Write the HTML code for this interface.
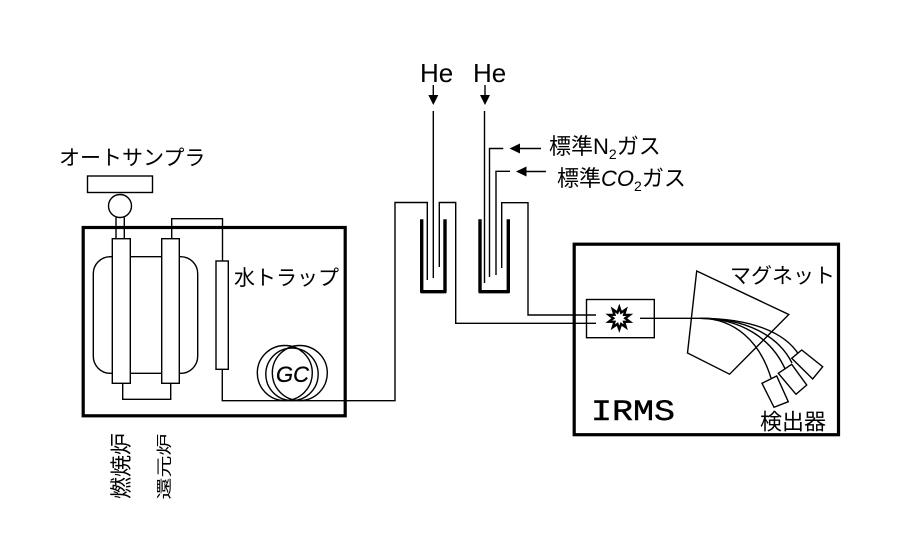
<!DOCTYPE html>
<html>
<head>
<meta charset="utf-8">
<style>
html,body{margin:0;padding:0;background:#fff;}
svg{display:block;}
text{font-family:"Liberation Sans","Noto Sans CJK JP",sans-serif;fill:#000;}
</style>
</head>
<body>
<svg width="919" height="542" viewBox="0 0 919 542" xmlns="http://www.w3.org/2000/svg">
<rect x="0" y="0" width="919" height="542" fill="#fff"/>
<g fill="none" stroke="#000" stroke-width="1.4">
  <!-- autosampler -->
  <rect x="87.5" y="176" width="65" height="16.5" fill="#fff"/>
  <circle cx="120" cy="206" r="11.5" fill="#fff"/>
  <line x1="116" y1="217.5" x2="116" y2="239"/>
  <line x1="124.3" y1="217.5" x2="124.3" y2="239"/>
  <!-- main box -->
  <rect x="83.2" y="227.5" width="262" height="188.3" stroke-width="3.2"/>
  <!-- furnace -->
  <rect x="93.3" y="256.7" width="104.4" height="116.6" rx="17" ry="17"/>
  <!-- col2 to water trap -->
  <path d="M171.7 239 V218.7 H222.5 V261"/>
  <!-- bottom connector -->
  <path d="M122.7 383 V399.3 H170.7 V383"/>
  <!-- columns -->
  <rect x="112.3" y="238.7" width="18" height="144.6" fill="#fff"/>
  <rect x="161.7" y="238.7" width="17.6" height="144.6" fill="#fff"/>
  <!-- water trap -->
  <rect x="216" y="261" width="12.3" height="108.3" fill="#fff"/>
  <!-- GC coils -->
  <circle cx="284.8" cy="373" r="27.5"/>
  <circle cx="299.8" cy="373" r="27.5"/>
  <circle cx="292" cy="374.3" r="26.2"/>
  <!-- gas line from water trap to left trap -->
  <path d="M222.3 369.3 V400.7 H395 V202.5 H427.3 V280"/>
  <!-- He left -->
  <line x1="433.3" y1="111" x2="433.3" y2="278"/>
  <path d="M439.3 267 V202.5 H455.7 V323.3 H596"/>
  <!-- right trap lines -->
  <line x1="484.5" y1="111" x2="484.5" y2="283"/>
  <path d="M503.3 148.5 H489.5 V277"/>
  <path d="M510 171.3 H496 V275"/>
  <path d="M501.7 268 V202.7 H528 V315 H596"/>
  <!-- He arrows shafts -->
  <line x1="433.3" y1="85" x2="433.3" y2="96"/>
  <line x1="485" y1="85" x2="485" y2="96"/>
  <!-- N2 / CO2 arrow shafts -->
  <line x1="518" y1="148.5" x2="541" y2="148.5"/>
  <line x1="525" y1="171.5" x2="546" y2="171.5"/>
  <!-- IRMS box -->
  <rect x="574.2" y="244.2" width="264.3" height="190.5" stroke-width="3.2"/>
  <!-- ion source -->
  <rect x="586.5" y="299.5" width="67.8" height="38.2"/>
  <!-- magnet -->
  <polygon points="696.7,271 788.8,314.5 729.6,374.2 687.5,353"/>
  <!-- beam -->
  <path d="M640 318.3 H700"/>
  <path d="M700 318.3 C735 318.3, 760 342, 771 378"/>
  <path d="M700 318.3 C740 318.3, 772 338, 786 371"/>
  <path d="M700 318.3 C745 318.3, 778 335, 792 363"/>
  <path d="M700 318.3 C750 318.3, 785 332, 799 355"/>
  <!-- detectors -->
  <polygon points="762,383.3 776.7,376 788.3,401.7 774,407.3" fill="#fff"/>
  <polygon points="778.3,373.3 791.7,364.3 806.7,385 796,394.3" fill="#fff"/>
  <polygon points="791.7,358.3 801.7,350 822.7,366.7 812.7,379" fill="#fff"/>
</g>
<!-- thick U traps -->
<g fill="none" stroke="#000" stroke-width="3.4" stroke-linejoin="round">
  <path d="M421.7 219.3 V291.7 H445 V219.3"/>
  <path d="M480 219.3 V291.7 H508.3 V219.3"/>
</g>
<!-- arrowheads -->
<g fill="#000" stroke="none">
  <polygon points="428.3,95 438.3,95 433.3,105"/>
  <polygon points="480,95 490,95 485,105"/>
  <polygon points="509.5,148.5 520,143.5 520,153.5"/>
  <polygon points="516,171.5 526.5,166.5 526.5,176.5"/>
</g>
<!-- starburst -->
<polygon transform="translate(619.3,318.3)" fill="#fff" stroke="#000" stroke-width="2.4" stroke-linejoin="miter"
 points="0,-11 1.85,-5.71 6.47,-8.9 4.85,-3.53 10.46,-3.4 6,0 10.46,3.4 4.85,3.53 6.47,8.9 1.85,5.71 0,11 -1.85,5.71 -6.47,8.9 -4.85,3.53 -10.46,3.4 -6,0 -10.46,-3.4 -4.85,-3.53 -6.47,-8.9 -1.85,-5.71"/>

<!-- texts -->
<text x="59" y="165" font-size="21">オートサンプラ</text>
<text x="234" y="285" font-size="21">水トラップ</text>
<text x="730" y="283" font-size="21">マグネット</text>
<text x="760" y="429.5" font-size="22">検出器</text>
<text x="549" y="154" font-size="22">標準N<tspan font-size="14" dy="5">2</tspan><tspan dy="-5">ガス</tspan></text>
<text x="557" y="186" font-size="22">標準<tspan font-style="italic">CO</tspan><tspan font-size="14" dy="5">2</tspan><tspan dy="-5">ガス</tspan></text>
<text x="420" y="82" font-size="26">He</text>
<text x="473" y="82" font-size="26">He</text>
<text x="292.5" y="382" font-size="22" font-style="italic" text-anchor="middle" stroke="#000" stroke-width="0.3">GC</text>
<text x="591" y="420" font-size="30" style="font-family:'Liberation Mono',monospace" stroke="#000" stroke-width="0.4" textLength="84" lengthAdjust="spacingAndGlyphs">IRMS</text>
<text transform="translate(121.7,466) rotate(-90)" font-size="22" text-anchor="middle" dominant-baseline="central">燃焼炉</text>
<text transform="translate(165,466.5) rotate(-90) scale(1,0.7)" font-size="22" text-anchor="middle" dominant-baseline="central">還元炉</text>
</svg>
</body>
</html>
